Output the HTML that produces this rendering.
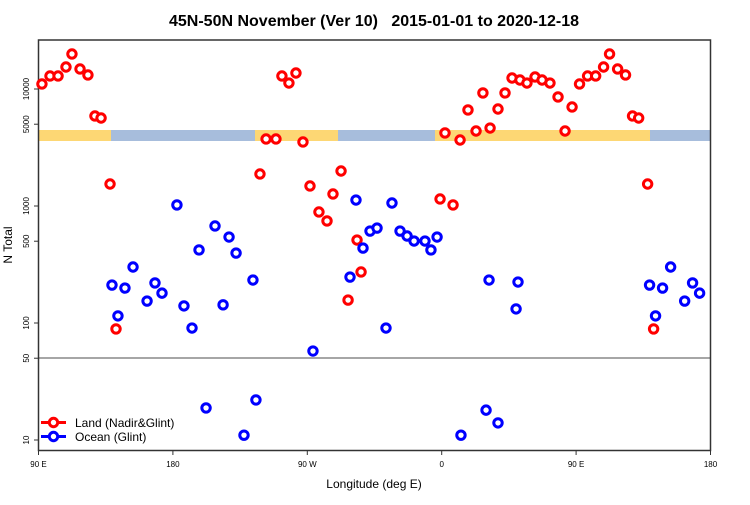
<!DOCTYPE html>
<html><head><meta charset="utf-8"><style>
body{margin:0;background:#fff;}
svg text{font-family:"Liberation Sans",sans-serif;}
</style></head><body>
<svg id="chart" width="750" height="500" xmlns="http://www.w3.org/2000/svg">
<text x="374" y="26" text-anchor="middle" font-size="16" font-weight="bold">45N-50N November (Ver 10)&#160;&#160; 2015-01-01 to 2020-12-18</text>
<g id="band"></g>
<line x1="38.5" x2="710.5" y1="358" y2="358" stroke="#888" stroke-width="1.5"/>
<rect x="38.5" y="40" width="672" height="410.5" fill="none" stroke="#333" stroke-width="1.5"/>
<g id="axes"></g>
<g id="pts"></g>
<text transform="translate(12,245) rotate(-90)" text-anchor="middle" font-size="12">N Total</text>
<text x="374" y="488" text-anchor="middle" font-size="12">Longitude (deg E)</text>
<g>
<g>
<line x1="41" x2="66" y1="422.5" y2="422.5" stroke="red" stroke-width="3"/>
<circle cx="53.5" cy="422.5" r="4.2" fill="#fff" stroke="red" stroke-width="3"/>
<text x="75" y="427" font-size="12">Land (Nadir&amp;Glint)</text></g>
<g>
<line x1="41" x2="66" y1="436.5" y2="436.5" stroke="blue" stroke-width="3"/>
<circle cx="53.5" cy="436.5" r="4.2" fill="#fff" stroke="blue" stroke-width="3"/>
<text x="75" y="441" font-size="12">Ocean (Glint)</text></g>
</g>
</svg>
<script>
const landLon=[92.3,97.7,103.1,108.4,112.4,117.8,123.1,127.8,131.9,137.9,141.9,-121.7,-117.6,-111,-107,-102.3,-97.6,-92.9,-88.2,-82.2,-76.8,-72.8,-67.4,-62.7,-56.7,-54,-1.1,2.2,7.6,12.3,17.6,23,27.6,32.4,37.7,42.4,47.1,52.4,57.1,62.5,67.2,72.5,77.9,82.6,87.3];
const landN=[11040,12920,12920,15420,19920,14830,13180,5880,5650,1542,89,1878,3740,3740,12920,11250,13700,3525,1483,889,745,1267,1991,157,512,273,1148,4210,1021,3665,6620,4375,9250,4640,6745,9250,12420,11940,11250,12670,11940,11250,8550,4375,7020];
const oceanLon=[139.2,143.2,147.9,153.3,162.7,168,172.7,-177.3,-172.6,-167.2,-162.5,-157.8,-151.8,-146.4,-142.4,-137.7,-132.4,-126.4,-124.4,-86.2,-61.4,-57.4,-52.7,-48,-43.3,-37.3,-33.3,-27.9,-23.2,-18.5,-11.2,-7.2,-3.1,12.9,29.7,31.7,37.7,49.8,51.1];
const oceanN=[211,115,199,301,154,220,180,1021,140,90.6,421,18.8,675,143,543,396,11,233,22,57.6,247,1125,437,611,648,90.6,1061,611,554,502,502,421,543,11,18,233,14,132,224];
const yTicks=[10,50,100,500,1000,5000,10000];
const xTickLabels=["90 E","180","90 W","0","90 E","180"];
const xTickDeg=[0,90,180,270,360,450];

const NS="http://www.w3.org/2000/svg";
const X0=38.5,PX=672/450;
function xd(d){return X0+d*PX;}
function xpos(lon){let d=lon-90; if(d<0)d+=360; return xd(d);}
function ypos(v){return 440-(Math.log10(v)-1)*117;}
function mk(t,a,p){const e=document.createElementNS(NS,t);for(const k in a)e.setAttribute(k,a[k]);p.appendChild(e);return e;}

const band=document.getElementById('band');
const segs=[[39,111,'#FDD774'],[111,255,'#A7BDDC'],[255,338,'#FDD774'],[338,435,'#A7BDDC'],[435,650,'#FDD774'],[650,710.5,'#A7BDDC']];
segs.forEach(s=>{const r=mk('rect',{x:s[0],y:130,width:s[1]-s[0],height:11,fill:s[2]},band);

});

const axes=document.getElementById('axes');
xTickDeg.forEach((d,i)=>{const x=xd(d);
const l=mk('line',{x1:x,x2:x,y1:450.5,y2:455,stroke:'#333'},axes);


const t=mk('text',{x:x,y:467,'text-anchor':'middle','font-size':8},axes);


t.textContent=xTickLabels[i];});
yTicks.forEach(v=>{const y=ypos(v);
const l=mk('line',{x1:34,x2:38.5,y1:y,y2:y,stroke:'#333'},axes);


const t=mk('text',{transform:`translate(29,${y}) rotate(-90)`,'text-anchor':'middle','font-size':8},axes);


t.textContent=v;});

const pts=document.getElementById('pts');
function draw(lons,vals,col,name){lons.forEach((lon,i)=>{
 const xs=[xpos(lon)]; if(lon>=90&&lon<=180) xs.push(xpos(lon)+360*PX);
 xs.forEach(x=>{ if(x>712)return;
  const c=mk('circle',{cx:x,cy:ypos(vals[i]),r:4.2,fill:'#fff',stroke:col,'stroke-width':3},pts);
  
  });});}
draw(landLon,landN,'red','land-point');
draw(oceanLon,oceanN,'blue','ocean-point');
</script>
</body></html>
